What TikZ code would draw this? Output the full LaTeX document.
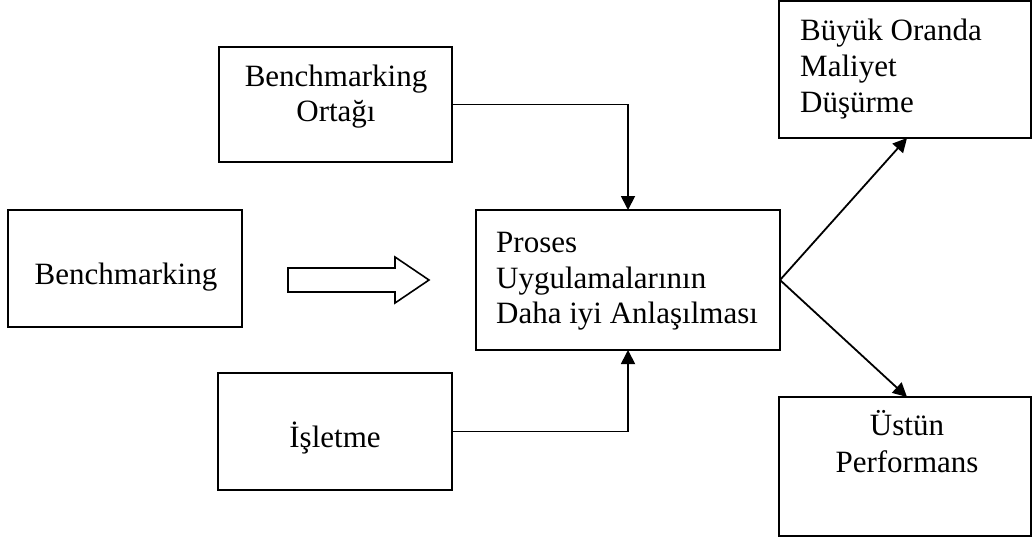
\documentclass[tikz,border=0pt]{standalone}
\usepackage{fontspec}
\setmainfont{Liberation Serif}
\usetikzlibrary{arrows.meta}
\begin{document}
\begin{tikzpicture}[x=1pt,y=-1pt,
  box/.style={draw,line width=1.8pt,rectangle,inner sep=0pt,outer sep=0pt},
  txt/.style={inner sep=0pt,font=\fontsize{31}{36}\selectfont},
  conn/.style={line width=1.8pt,-{Triangle[length=14pt,width=14pt]}},
  hollow/.style={draw,line width=1.6pt,fill=white,line join=miter}]
\useasboundingbox[fill=white] (0,0) rectangle (1032,539);
% boxes
\node[box,minimum width=233pt,minimum height=115pt] (orta) at (335.5,104.5) {};
\node[box,minimum width=234pt,minimum height=117pt] (bench) at (125,268.5) {};
\node[box,minimum width=304pt,minimum height=140pt] (proses) at (628,280) {};
\node[box,minimum width=234pt,minimum height=117pt] (islet) at (335,431.5) {};
\node[box,minimum width=252pt,minimum height=137pt] (buyuk) at (905,69.5) {};
\node[box,minimum width=252pt,minimum height=139pt] (ustun) at (905,466.5) {};
% texts
\node[txt,anchor=base] (t1) at (336,86) {Benchmarking};
\node[txt,anchor=base] (t2) at (336,121) {Ortağı};
\node[txt,anchor=base] (t3) at (126,284) {Benchmarking};
\node[txt,anchor=base west] (t4) at (496,252) {Proses};
\node[txt,anchor=base west] (t5) at (496,288) {Uygulamalarının};
\node[txt,anchor=base west] (t6) at (496,323) {Daha iyi Anlaşılması};
\node[txt,anchor=base] (t7) at (335,447) {İşletme};
\node[txt,anchor=base west] (t8) at (800,40) {Büyük Oranda};
\node[txt,anchor=base west] (t9) at (800,76) {Maliyet};
\node[txt,anchor=base west] (t10) at (800,112) {Düşürme};
\node[txt,anchor=base] (t11) at (907,435) {Üstün};
\node[txt,anchor=base] (t12) at (907,472) {Performans};
% hollow arrow
\draw[hollow] (288,268) -- (395,268) -- (395,257) -- (429,280) -- (395,303) -- (395,292) -- (288,292) -- cycle;
% connectors
\draw[conn] (orta.east) -| (proses.north);
\draw[conn] (islet.east) -| (proses.south);
\draw[conn] (proses.east) -- ([xshift=2pt]buyuk.south);
\draw[conn] (proses.east) -- ([xshift=2pt]ustun.north);
\end{tikzpicture}
\end{document}
